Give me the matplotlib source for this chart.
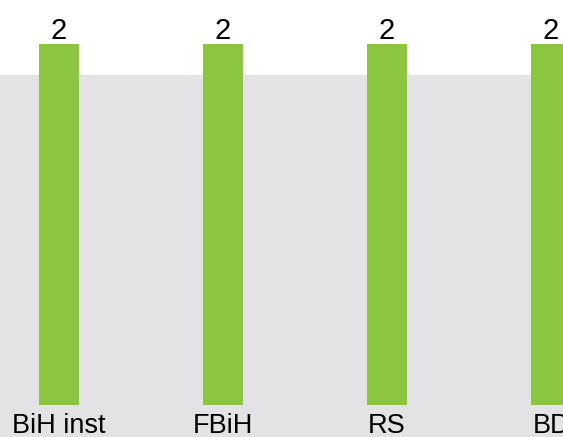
import matplotlib.pyplot as plt

categories = ["BiH inst", "FBiH", "RS", "BD"]
values = [2, 2, 2, 2]

font = ["Liberation Sans", "DejaVu Sans"]

fig = plt.figure(figsize=(5.63, 4.37), dpi=100)
# gray panel starts ~75 px below the top and runs to the bottom edge
ax = fig.add_axes([0, 0, 1, 362 / 437])
ax.set_facecolor("#e3e3e5")

x = list(range(len(categories)))
bars = ax.bar(x, values, width=0.244, color="#8cc540", clip_on=False, zorder=3)

ax.set_xlim(-0.3598, 3.073)
ax.set_ylim(-0.1773, 1.828)

for xi, v, name in zip(x, values, categories):
    ax.annotate(str(v), xy=(xi, v), xytext=(0, 5), textcoords="offset pixels",
                ha="center", va="baseline", fontsize=21, family=font,
                annotation_clip=False)
    ax.annotate(name, xy=(xi, 0), xytext=(0, -28), textcoords="offset pixels",
                ha="center", va="baseline", fontsize=19.5, family=font)

ax.set_xticks([])
ax.set_yticks([])
for s in ax.spines.values():
    s.set_visible(False)

fig.savefig("out.png", dpi=100)
